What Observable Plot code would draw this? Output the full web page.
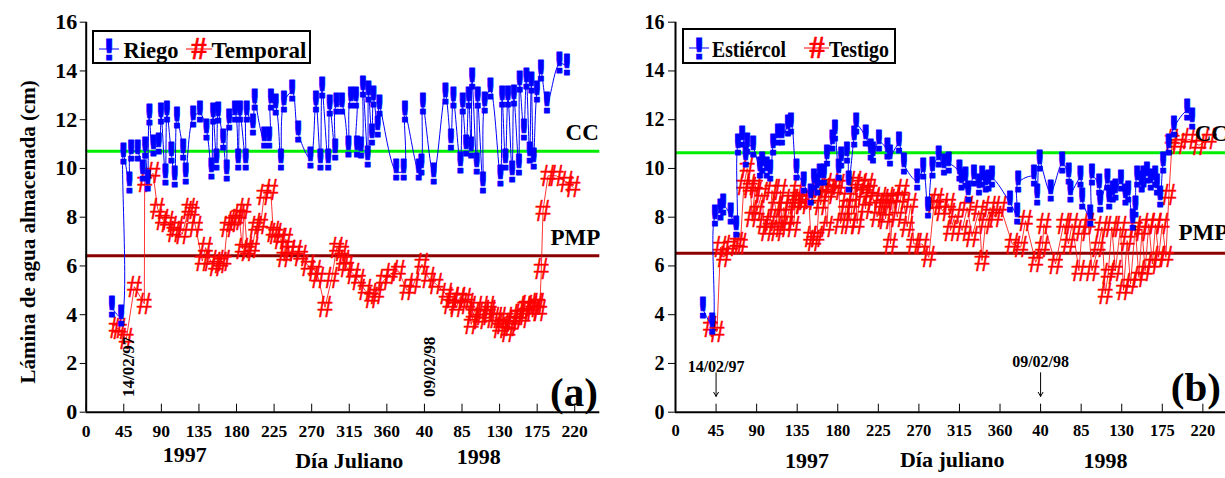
<!DOCTYPE html>
<html><head><meta charset="utf-8">
<script src="https://cdn.jsdelivr.net/npm/d3@7"></script>
<script src="https://cdn.jsdelivr.net/npm/@observablehq/plot@0.6"></script>
<style>
body{margin:0;overflow:hidden;background:#fff;}
#wrap{position:relative;width:1225px;height:478px;overflow:hidden;background:#fff;font-family:"Liberation Serif",serif;font-weight:bold;}
#wrap > svg{position:absolute;top:0;}
.legend{position:absolute;border:2px solid #000;background:#fff;box-sizing:border-box;}
.legend svg{position:absolute;left:0;top:0;}
</style></head><body><div id="wrap"></div>
<script>
// ---- data (Julian day counted continuously from 1 Jan 1997; 1998 days = 365 + day) ----
const xTickDays = [0,45,90,135,180,225,270,315,360,405,450,495,540,585];
const xTickLabels = ["0","45","90","135","180","225","270","315","360","40","85","130","175","220"];
const yTicks = [0,2,4,6,8,10,12,14,16];
const markDays = [45, 405];
const markLabels = ["14/02/97", "09/02/98"];
const refLabels = ["CC", "PMP"];
const refLevelsA = [10.71, 6.42];
const refLevelsB = [10.64, 6.52];

// Panel (a) Riego
const riegoDays = [30.6,41.8,44.5,51.7,53.7,61.6,67.6,70.4,73.5,75.5,80.3,86.7,89.5,94.7,96.7,102,106,108.6,116,119,128,136,144,150,152,156,158,164,168,171,178,182,184,191,192,199.7,201.6,213,219,221,226.7,233,236.6,246.6,253.7,268.5,275,280.4,282.4,289.6,291.6,298,299.5,306,314,317,323,324,329,331.4,337,338,342,344,349,351,371,380,381.6,398,401.3,403,416,430,436.6,439.5,448,450.6,455,458,461,462,467.5,468.6,475,477,484,496,498,502,505,510,512,518,519,524,527,531,533,535.6,539.6,544.5,551.7,566.7,575.5];
const riegoVals = [4.3,3.9,10.56,9.37,10.67,10.67,9.85,10.8,9.47,12.18,10.88,10.98,12.22,9.72,12.27,10.6,9.64,12.04,10.73,9.75,12.08,12.27,11.56,9.94,12.22,10.32,12.25,11.12,9.88,11.97,12.27,10.32,12.3,10.32,12.3,11.76,12.77,11.2,11.2,12.77,12.57,10.3,12.69,13.14,11.45,10.4,12.7,10.32,13.27,10.3,12.55,10.73,12.6,12.6,10.87,12.86,12.86,10.87,10.8,13.31,10.46,13.1,11.35,12.89,11.67,12.52,9.89,9.9,12.27,9.9,10.1,12.63,9.75,13.04,11.14,12.85,10.18,12.6,10.9,12.85,10.8,13.64,10.15,12.85,9.37,12.66,13.23,9.66,12.9,10.3,12.9,9.84,12.96,10.1,13.5,11.55,13.65,10.6,13.47,10.37,13.1,13.96,12.66,14.3,14.2];

// Panel (a) Temporal
const temporalDays = [36,40,48,57.7,69.6,70,80,85.5,91.5,97.5,105,109,115,123,127,131,139,143,149,155,161,165,169,175,179,183,187,189,193,199,203,209,213,221,224,227,233,237,239,243,251,257,266,274,278,286,294,300,306,308,312,320,326,334,342,348,356,364,374,384,392,402,410,419,431,435.6,439,443.5,447,453.5,457,461,463.5,467,471.4,475,481.3,483,487.3,491,495.2,499,503,505,509,511,517,519,523,525,527,533,535,539,541,543,545,547,553,563,575,583];
const temporalVals = [3.45,3.4,3.0,5.15,4.45,9.45,9.8,8.35,7.9,7.8,7.4,7.6,7.3,8.35,8.2,7.6,6.2,6.75,6.2,6.0,6.1,6.2,7.6,7.8,7.9,8.1,6.7,8.35,6.6,6.75,7.6,7.7,8.9,9.1,7.4,7.3,7.1,6.35,7.1,6.6,6.6,6.4,6.0,5.8,5.5,4.3,5.5,6.75,6.6,6.2,5.94,5.67,5.4,5.0,4.7,4.84,5.4,5.67,5.8,5.0,5.25,6.07,5.5,5.25,4.84,4.43,4.7,4.3,4.7,4.64,4.43,3.6,4.02,4.3,3.81,4.0,4.3,4.15,3.87,3.87,3.46,3.6,3.87,3.3,3.54,3.74,4.0,4.0,3.87,4.3,4.36,4.3,4.15,4.43,4.43,4.15,5.87,8.27,9.7,9.7,9.44,9.23];

// Panel (b) Estiércol
const estiercolDays = [30.3,40.7,43.6,49.9,52.9,61,67.3,69.2,74,77.7,79.5,86.2,93.5,96,101,105,108.4,113.5,118,124.6,128,134.2,142,149.8,153.5,157,160,164.6,168,174,176.7,181,183.8,190,192,198,200.4,211,216.3,219,225.6,235,237.8,247.7,253.3,268,274.7,280,285,292,297.7,303,315,317,321.6,324.7,331,336.5,340,344,347,351,371,379,380,397.6,401,404,416,429,436,438,449,451,460,462,470,471,479,481,485,488,494,499,502,507,510,512,517,519,523,527,532,534,537.6,541,547,552.8,567.5,573];
const estiercolVals = [4.24,3.6,8.0,8.25,8.48,8.1,7.56,10.94,11.28,10.46,10.98,10.84,9.98,10.2,10.0,9.85,10.94,11.35,11.35,11.72,11.8,9.92,9.37,8.9,9.5,9.3,9.7,9.7,10.5,11.1,11.5,9.9,10.4,10.6,9.4,11.25,11.8,11.3,10.74,10.6,11.1,10.76,10.5,11.0,10.16,9.48,9.94,8.34,9.98,10.45,10.1,10.2,9.85,9.5,9.58,9.0,9.67,9.3,9.6,9.4,9.45,9.6,8.6,8.1,9.4,9.67,8.9,10.26,9.03,10.2,9.75,9.0,9.6,8.7,8.0,9.7,9.3,8.6,9.5,8.7,9.0,9.1,9.45,8.9,9.0,7.84,8.4,9.6,9.4,9.6,9.8,9.5,9.6,9.3,8.8,10.2,10.95,11.67,12.35,12.0];

// Panel (b) Testigo
const testigoDays = [38.8,46,49.9,53.6,61,68.4,72,75.8,79.5,83,85,88.7,90.6,96,98,101.6,105,107,111,112.8,116.5,118,120,124,127.5,131,133,135,136.8,140.5,144,148,150,153.5,157,160,161,164.6,168,170,174,177.5,181,183,188.6,190.5,194,196,199.6,201.5,205,209,210.8,213,216,220,223.7,227.4,231,233,236.7,238.5,242,246,249.6,251.5,257,261,264.4,273.7,281,286.6,290,296,303,305,310.6,318,323.6,329,336.5,340,343.8,349,355,360.6,373.6,383,388.3,399.5,407,408.7,421.6,430.6,436,440,447.5,451,458,462,469,473,476.7,480,484,488,493.6,497,501,504.8,510,514,517.5,521,525,529,532.5,536,540,544,547.3,551,558,569.6,580.6,592];
const testigoVals = [3.49,3.3,6.77,6.35,6.8,6.94,6.9,9.3,10.0,9.2,7.99,9.3,8.27,9.0,7.73,7.45,7.86,9.1,8.4,7.45,9.1,7.6,8.4,7.86,8.7,7.6,8.55,9.1,8.7,8.55,8.75,8.7,7.2,7.04,7.17,9.2,8.5,9.16,7.6,8.95,9.37,9.1,9.3,7.73,8.27,8.8,7.73,8.55,9.44,7.73,9.3,8.95,8.34,9.37,9.1,8.7,8.0,8.8,8.55,7.93,8.7,6.9,8.8,8.0,8.75,9.1,7.6,8.55,6.9,6.9,6.35,8.48,8.75,8.27,8.55,7.45,8.13,7.45,8.4,7.2,8.27,6.22,7.73,8.4,8.0,8.4,6.9,6.77,7.86,6.15,6.77,7.73,6.08,7.73,6.9,7.73,5.8,7.45,7.73,5.8,6.77,7.6,4.85,5.67,7.6,5.8,7.6,5.0,7.04,5.26,7.6,5.53,7.45,5.8,7.73,6.08,7.73,6.35,7.73,6.35,8.9,11.15,11.0,11.2,10.95,11.2];

const zipS = (ds, vs) => ds.map((d, i) => ({day: d, val: vs[i]}));
const riego = zipS(riegoDays, riegoVals);
const temporal = zipS(temporalDays, temporalVals);
const estiercol = zipS(estiercolDays, estiercolVals);
const testigo = zipS(testigoDays, testigoVals);

const BLUE = "#0000ff", RED = "#ff0000", GREEN = "#00ee00", DARKRED = "#8b0000";
const fmtX = d => xTickLabels[xTickDays.indexOf(d)];

function seriesMarks(blue, red) {
  return [
    Plot.line(red, {x: "day", y: "val", stroke: RED, strokeWidth: 0.8}),
    Plot.text(red, {x: "day", y: "val", text: () => "#", fill: RED, stroke: RED, strokeWidth: 0.4, fontSize: 31, fontFamily: "Liberation Serif", fontWeight: "normal"}),
    Plot.line(blue, {x: "day", y: "val", stroke: BLUE, strokeWidth: 1, curve: "catmull-rom"}),
    Plot.text(blue, {x: "day", y: "val", text: () => "!", fill: BLUE, stroke: BLUE, strokeWidth: 0.8, fontSize: 29, fontFamily: "DejaVu Sans", fontWeight: "bold"})
  ];
}
function bottomLabel(label, day, dy) {
  return Plot.text([label], {x: () => day, frameAnchor: "bottom", dy, fontSize: 22});
}
const baseStyle = {background: "transparent", overflow: "visible", fontFamily: "Liberation Serif", fontWeight: "bold", fontSize: "17px", color: "black"};

const panelA = Plot.plot({
  width: 610, height: 478, marginLeft: 85.7, marginRight: 10.7, marginTop: 21.7, marginBottom: 66.3,
  x: {domain: [0, 615], label: null}, y: {domain: [0, 16], label: null},
  style: baseStyle,
  marks: [
    Plot.ruleY([refLevelsA[0]], {stroke: GREEN, strokeWidth: 3}),
    Plot.ruleY([refLevelsA[1]], {stroke: DARKRED, strokeWidth: 3}),
    ...seriesMarks(riego, temporal),
    Plot.ruleX([0], {strokeWidth: 2}),
    Plot.ruleY([0], {strokeWidth: 2}),
    Plot.axisY({ticks: yTicks, tickSize: 6, tickPadding: 3, fontSize: 22}),
    Plot.axisX({ticks: xTickDays, tickSize: -8, tickFormat: () => ""}),
    Plot.axisX({ticks: xTickDays, tickSize: 0, tickPadding: 12, tickFormat: fmtX, fontSize: 17.5}),
    Plot.text(refLabels, {x: [574, 556], y: [11.47, 7.15], textAnchor: "start", fontSize: 23}),
    Plot.text(markDays, {x: d => d, y: 1.86, text: (d, i) => markLabels[i], rotate: -90, dx: 5, fontSize: 17}),
    Plot.text(["(a)"], {frameAnchor: "bottom-right", dx: -2, dy: -6, lineAnchor: "bottom", fontSize: 41}),
    bottomLabel("1997", 118, 50),
    bottomLabel("Día Juliano", 315, 56),
    bottomLabel("1998", 470, 52),
    Plot.text(["Lámina de agua almacenada (cm)"], {y: () => 7.4, frameAnchor: "left", textAnchor: "middle", dx: -58, rotate: -90, fontSize: 21})
  ]
});

const panelB = Plot.plot({
  width: 650, height: 478, marginLeft: 85, marginRight: 10.6, marginTop: 21.7, marginBottom: 66.3,
  x: {domain: [0, 615], label: null}, y: {domain: [0, 16], label: null},
  style: baseStyle,
  marks: [
    Plot.ruleY([refLevelsB[0]], {stroke: GREEN, strokeWidth: 3}),
    Plot.ruleY([refLevelsB[1]], {stroke: DARKRED, strokeWidth: 3}),
    ...seriesMarks(estiercol, testigo),
    Plot.ruleX([0], {strokeWidth: 2}),
    Plot.ruleY([0], {strokeWidth: 2}),
    Plot.axisY({ticks: yTicks, tickSize: 7, tickPadding: 4, fontSize: 20}),
    Plot.axisX({ticks: xTickDays, tickSize: -8, tickFormat: () => ""}),
    Plot.axisX({ticks: xTickDays, tickSize: 0, tickPadding: 12, tickFormat: fmtX, fontSize: 16.5}),
    Plot.text(refLabels, {x: [576, 558], y: [11.43, 7.37], textAnchor: "start", fontSize: 23}),
    Plot.arrow(markDays, {x: d => d, y1: 1.62, y2: 0.65, headLength: 7, strokeWidth: 1, stroke: "black"}),
    Plot.text(markDays, {x: d => d, y: [1.87, 2.05], text: (d, i) => markLabels[i], fontSize: 16}),
    Plot.text(["(b)"], {frameAnchor: "bottom-right", dx: -9, dy: -11, lineAnchor: "bottom", fontSize: 41}),
    bottomLabel("1997", 146, 56),
    bottomLabel("Día juliano", 307, 55),
    bottomLabel("1998", 477, 56)
  ]
});

const wrap = document.getElementById("wrap");
panelA.style.left = "0px";
panelB.style.left = "590px";
wrap.appendChild(panelA);
wrap.appendChild(panelB);

const legA = document.createElement("div");
legA.className = "legend";
legA.style.cssText = "left:92px;top:30px;width:219px;height:34px;";
legA.innerHTML = `<svg width="219" height="34">
<line x1="5" x2="25" y1="17" y2="17" stroke="${BLUE}" stroke-width="1"/>
<text x="15" y="27.5" text-anchor="middle" font-family="DejaVu Sans" font-weight="bold" font-size="29" fill="${BLUE}" stroke="${BLUE}" stroke-width="0.8">!</text>
<text x="29.5" y="26" font-family="Liberation Serif" font-weight="bold" font-size="22.5" textLength="55" lengthAdjust="spacingAndGlyphs">Riego</text>
<line x1="92" x2="118" y1="17" y2="17" stroke="${RED}" stroke-width="1"/>
<text x="105" y="27" text-anchor="middle" font-family="Liberation Serif" font-size="31" fill="${RED}" stroke="${RED}" stroke-width="0.4">#</text>
<text x="117.5" y="26" font-family="Liberation Serif" font-weight="bold" font-size="22.5" textLength="95" lengthAdjust="spacingAndGlyphs">Temporal</text>
</svg>`;
wrap.appendChild(legA);

const legB = document.createElement("div");
legB.className = "legend";
legB.style.cssText = "left:682px;top:28px;width:214px;height:36px;";
legB.innerHTML = `<svg width="214" height="36">
<line x1="5" x2="25" y1="18" y2="18" stroke="${BLUE}" stroke-width="1"/>
<text x="15" y="28.5" text-anchor="middle" font-family="DejaVu Sans" font-weight="bold" font-size="29" fill="${BLUE}" stroke="${BLUE}" stroke-width="0.8">!</text>
<text x="28" y="27" font-family="Liberation Serif" font-weight="bold" font-size="24" textLength="74" lengthAdjust="spacingAndGlyphs">Estiércol</text>
<line x1="120" x2="145" y1="18" y2="18" stroke="${RED}" stroke-width="1"/>
<text x="133" y="28" text-anchor="middle" font-family="Liberation Serif" font-size="31" fill="${RED}" stroke="${RED}" stroke-width="0.4">#</text>
<text x="145" y="27" font-family="Liberation Serif" font-weight="bold" font-size="24" textLength="60" lengthAdjust="spacingAndGlyphs">Testigo</text>
</svg>`;
wrap.appendChild(legB);
</script></body></html>
